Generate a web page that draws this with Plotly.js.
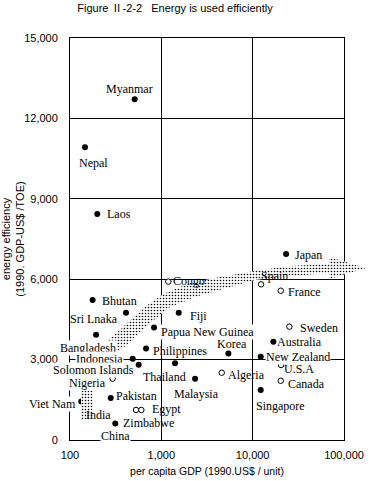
<!DOCTYPE html>
<html>
<head>
<meta charset="utf-8">
<script src="https://cdn.plot.ly/plotly-3.0.1.min.js"></script>
<style>
html,body{margin:0;padding:0;background:#fff;}
#chart{width:372px;height:481px;}
</style>
</head>
<body>
<div id="chart"></div>
<script>
// ---------- data ----------
const filledNames = ['Myanmar','Nepal','Laos','Bhutan','Sri Lnaka','Bangladesh','Fiji','Papua New Guinea',
  'Philippines','Indonesia','Solomon Islands','Pakistan','Viet Nam','Zimbabwe','Thailand','Malaysia',
  'Korea','Japan','Australia','New Zealand','Singapore'];
const filledGdp = [511,146,199,177,410,193,1550,832,680,486,565,279,133,313,1413,2339,5420,23220,16860,12250,12250];
const filledEff = [12710,10920,8430,5220,4750,3930,4750,4200,3410,3030,2810,1570,1440,620,2860,2290,3230,6940,3670,3110,1870];

const openNames = ['Congo','Spain','France','Sweden','U.S.A','Canada','Algeria','Nigeria','','Egypt'];
const openGdp = [1193,12360,20300,25230,20470,20300,4585,293,528,604];
const openEff = [5910,5810,5570,4230,2800,2210,2510,2290,1120,1120];

// labels without a visible marker (position of the label)
const labelOnlyNames = ['India','China'];
const labelOnlyGdp = [206,311];
const labelOnlyEff = [930,150];

const xTickVals = [100,1000,10000,100000];
const xTickText = ['100','1,000','10,000','100,000'];
const yTickVals = [0,3000,6000,9000,12000,15000];
const yTickText = ['0','3,000','6,000','9,000','12,000','15,000'];

// schematic trend band (outline, in GDP / efficiency units)
const trendGdp = [132,132,142,174,248,371,614,1043,2060,4389,10608,25630,68520,68520,174100,68520,68520,25630,10608,4617,2337,1244,752,454,303,230,193,179,179];
const trendEff = [746,1866,2537,3134,3656,4179,4888,5447,5858,6082,6305,6492,6567,6828,6417,6007,6231,6119,5970,5634,5335,4962,4365,3656,3171,2761,2313,1791,746];

// ---------- label placement (pixels relative to the marker) ----------
const labelStyle = {
  'Myanmar':{a:'center',dx:-5,dy:-10.5},
  'Nepal':{a:'left',dx:-7,dy:16},
  'Laos':{a:'left',dx:9,dy:0},
  'Bhutan':{a:'left',dx:8,dy:1},
  'Sri Lnaka':{a:'right',dx:-7,dy:6},
  'Bangladesh':{a:'right',dx:21,dy:13.5,bg:true},
  'Fiji':{a:'left',dx:10.5,dy:3},
  'Papua New Guinea':{a:'left',dx:6,dy:4.4,bg:true},
  'Philippines':{a:'left',dx:6,dy:2.3},
  'Indonesia':{a:'right',dx:-9,dy:0.5,bg:true},
  'Solomon Islands':{a:'right',dx:-4,dy:5,bg:true},
  'Pakistan':{a:'left',dx:4,dy:-2.3},
  'Viet Nam':{a:'right',dx:-4,dy:3,bg:true},
  'Zimbabwe':{a:'left',dx:7,dy:-0.6},
  'Thailand':{a:'center',dx:-11,dy:14},
  'Malaysia':{a:'center',dx:1.7,dy:15.3},
  'Korea':{a:'center',dx:3.4,dy:-9.3},
  'Japan':{a:'left',dx:8,dy:1},
  'Australia':{a:'left',dx:3,dy:0.6},
  'New Zealand':{a:'left',dx:4,dy:0.3,bg:true},
  'Singapore':{a:'center',dx:20,dy:15.7},
  'Congo':{a:'left',dx:4,dy:-1},
  'Spain':{a:'left',dx:-1,dy:-8.3},
  'France':{a:'left',dx:6.6,dy:1.6},
  'Sweden':{a:'left',dx:9.7,dy:1.6},
  'U.S.A':{a:'left',dx:2.3,dy:3.8},
  'Canada':{a:'left',dx:6.6,dy:3.3},
  'Algeria':{a:'left',dx:5.6,dy:2.3},
  'Nigeria':{a:'right',dx:-6,dy:4.6,bg:true},
  'Egypt':{a:'left',dx:10,dy:-0.7},
  'India':{a:'center',dx:0,dy:0},
  'China':{a:'center',dx:0,dy:0,bg:true}
};

// ---------- geometry ----------
const W = 372, H = 481;
const PL = 70, PR = 344, PT = 38, PB = 440;
const xRange = [2,5], yRange = [0,15000];
const pxPerDec = (PR-PL)/(xRange[1]-xRange[0]);
const unitPerPx = (yRange[1]-yRange[0])/(PB-PT);
const x2Range = [xRange[0]-PL/pxPerDec, xRange[1]+(W-PR)/pxPerDec];
const y2Range = [yRange[0]-(H-PB)*unitPerPx, yRange[1]+PT*unitPerPx];

const serif = 'Liberation Serif, Times New Roman, serif';
const sans = 'Liberation Sans, Arial, sans-serif';

const annotations = [];
function addLabels(names, gdp, eff){
  names.forEach((n,i)=>{
    if(!n) return;
    const s = labelStyle[n] || {a:'left',dx:5,dy:0};
    annotations.push({
      x: Math.log10(gdp[i]), y: eff[i], xref:'x', yref:'y',
      text: n, showarrow:false, xanchor:s.a, yanchor:'middle',
      xshift:s.dx, yshift:-s.dy,
      font:{family:serif,size:12,color:'#000'},
      bgcolor: s.bg ? '#fff' : 'rgba(0,0,0,0)', borderpad:0
    });
  });
}
addLabels(filledNames, filledGdp, filledEff);
addLabels(openNames, openGdp, openEff);
addLabels(labelOnlyNames, labelOnlyGdp, labelOnlyEff);

const traces = [
  {type:'scatter', mode:'markers', x:filledGdp, y:filledEff, xaxis:'x', yaxis:'y',
   marker:{size:6, color:'#000'}, hoverinfo:'skip', showlegend:false},
  {type:'scatter', mode:'markers', x:openGdp, y:openEff, xaxis:'x', yaxis:'y',
   marker:{size:5.5, color:'#fff', line:{color:'#000', width:1}}, hoverinfo:'skip', showlegend:false},
  {type:'scatter', mode:'lines', x:trendGdp, y:trendEff, xaxis:'x2', yaxis:'y2',
   fill:'toself', line:{width:0, color:'rgba(0,0,0,0)'},
   fillcolor:'#fff',
   fillpattern:{shape:'.', fgcolor:'#000', bgcolor:'#fff', size:3, solidity:0.22},
   hoverinfo:'skip', showlegend:false}
];

const axisCommon = {
  showline:true, mirror:true, linecolor:'#000', linewidth:1,
  showgrid:true, gridcolor:'#000', gridwidth:1, zeroline:false,
  ticks:'', fixedrange:true, automargin:false,
  tickfont:{family:sans, size:11, color:'#000'}
};

const layout = {
  width:W, height:H,
  margin:{l:0,r:0,t:0,b:0},
  paper_bgcolor:'#fff', plot_bgcolor:'rgba(0,0,0,0)',
  showlegend:false,
  title:{text:'Figure\u00a0\u2161-2-2\u00a0\u00a0\u00a0Energy is used efficiently',
    font:{family:sans+', Noto Sans CJK JP', size:11, color:'#000'},
    x:175/W, xanchor:'center', xref:'paper', y:1-8/H, yanchor:'middle', yref:'container'},
  xaxis:Object.assign({}, axisCommon, {
    type:'log', range:xRange, domain:[PL/W, PR/W], anchor:'y',
    tickvals:xTickVals, ticktext:xTickText, ticklabelstandoff:5,
    title:{text:'per capita GDP (1990.US$ / unit)', font:{family:sans,size:10.5,color:'#000'}, standoff:7}
  }),
  yaxis:Object.assign({}, axisCommon, {
    range:yRange, domain:[(H-PB)/H, (H-PT)/H], anchor:'x',
    tickvals:yTickVals, ticktext:yTickText, ticklabelstandoff:9,
    title:{text:'energy efficiency<br>(1990. GDP-US$ /TOE)', font:{family:sans,size:11,color:'#000'}, standoff:0}
  }),
  xaxis2:{type:'log', range:x2Range, domain:[0,1], anchor:'y2', visible:false, fixedrange:true, showgrid:false, zeroline:false},
  yaxis2:{range:y2Range, domain:[0,1], anchor:'x2', visible:false, fixedrange:true, showgrid:false, zeroline:false},
  annotations:annotations
};

Plotly.newPlot('chart', traces, layout, {staticPlot:true, displayModeBar:false});
</script>
</body>
</html>
